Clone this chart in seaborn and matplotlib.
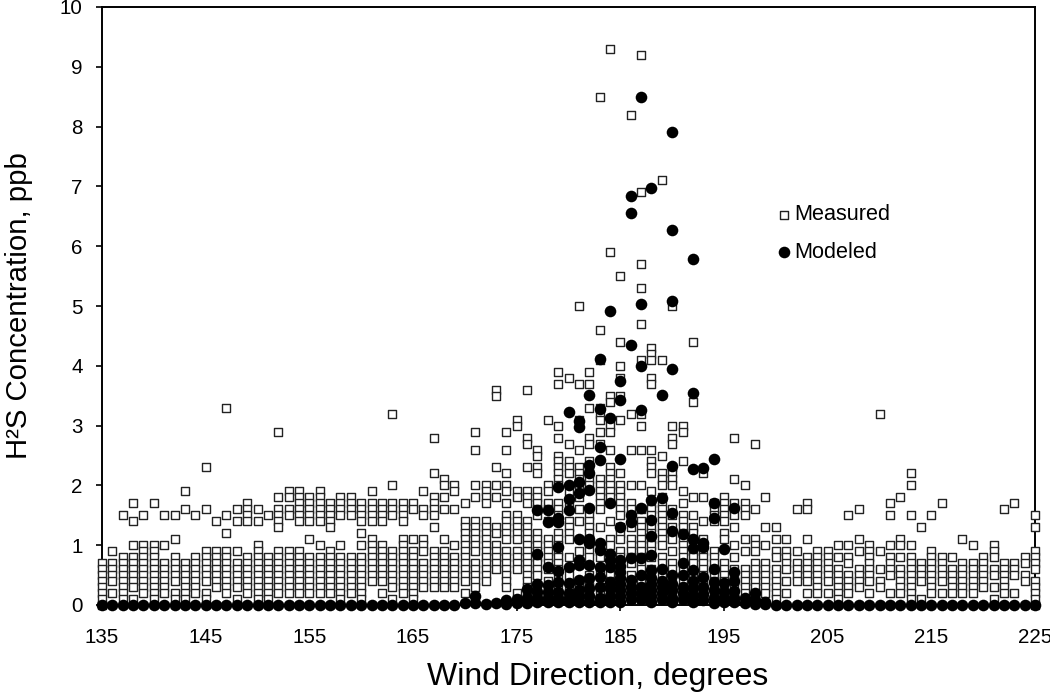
import pandas as pd
import numpy as np
import matplotlib
matplotlib.use('Agg')
import matplotlib.pyplot as plt
import seaborn as sns

# measured values per degree, in tenths of ppb (grid of the logger)
west_start = 135
measured_west = [
    [7,6,5,4,3,2,1,0],
    [9,7,6,5,4,2],
    [15,8,7,6,5,4,3,2,1],
    [17,14,10,8,7,6,5,4,3,1],
    [15,10,9,8,7,6,5,4,3,2],
    [17,10,9,8,7,6,5,4,3,2,1],
    [15,10,7,6,5,4,3,2],
    [15,11,8,7,6,5,4,2,1],
    [19,16,7,6,5,4,3,2,1],
    [15,8,7,6,5,4,3,2],
    [23,16,9,8,7,6,5,4,2,1],
    [14,9,8,7,6,5,4,3],
    [33,15,12,9,8,7,6,5,4,3,2],
    [16,14,9,7,6,5,4,3,1],
    [17,16,15,14,8,7,6,5,4,3,2],
    [16,14,10,9,8,7,6,5,4,3,2,1],
    [15,8,7,6,5,4,3,2,1],
    [29,18,16,15,14,13,9,8,7,6,5,4,3,2],
    [19,18,16,15,9,8,7,6,5,4,3,2],
    [19,18,17,16,15,14,9,8,7,6,5,4,3,2],
    [18,17,16,15,14,11,8,7,6,5,4,3,2],
    [19,18,17,16,15,14,10,8,7,6,5,4,3,2],
    [17,16,15,14,13,9,8,7,6,5,4,3,2],
    [18,17,16,15,10,8,7,6,5,4,3,2,1],
    [18,17,16,15,8,7,6,5,4,3,2],
    [17,16,15,14,12,10,8,7,6,5,4,3,2,1],
    [19,17,16,15,14,11,10,9,8,7,6,5,4],
    [17,16,15,14,10,9,8,7,6,5,4,2],
    [32,20,17,16,15,9,8,7,6,5,4,3,1],
    [17,16,15,14,11,10,9,8,7,6,5,4,3,2],
]

core_start = 165
measured_core = [
    [17,16,11,9,8,7,6,5,4,3,2,1],
    [19,16,15,11,10,9,7,6,5,4,3],
    [28,22,18,17,16,15,13,9,8,7,6,5,4,3],
    [21,20,18,16,11,9,8,7,6,5,4,3],
    [20,19,16,10,8,7,6,5,4,3],
    [17,14,13,12,11,10,9,8,7,6,5,4,2],
    [29,26,20,18,14,13,12,11,10,9,7,6,5,4,3],
    [20,19,18,17,14,13,12,11,10,9,8,7,6,5,4],
    [36,35,23,20,18,13,12,10,9,8,7,6],
    [29,26,22,20,19,17,15,14,13,12,11,9,8,7,6,5,4,3],
    [31,30,19,18,15,14,13,12,11,9,8,7,6,2,1],
    [36,28,27,23,19,18,17,14,13,12,11,10,9,8,7,6,5,4,3,2],
    [26,25,23,22,19,18,17,16,15,12,11,10,9,8,7,6,5,3,2,1],
    [31,20,19,17,16,14,11,10,9,8,7,6,4,3,2,1],
    [39,37,30,28,25,24,23,22,21,20,17,16,15,14,12,11,10,9,8,7,6,5,3,2,1],
    [38,27,24,23,22,19,17,14,13,12,11,8,5,3,2,1],
    [50,37,31,26,23,22,21,20,18,16,14,9,7,4,3,2,1],
    [39,37,33,28,27,24,23,22,21,20,16,15,14,13,12,11,10,9,8,5,4,3,2,1],
    [85,46,41,33,32,31,29,27,21,20,19,18,17,16,13,9,8,6,3,2,1],
    [93,59,35,34,30,29,26,23,22,21,20,19,18,14,11,10,7,5,4,3,2,1],
    [55,44,40,38,35,31,22,20,19,18,17,16,15,13,12,11,9,8,6,5,3,2,1],
    [82,32,26,20,17,16,15,14,13,11,10,9,8,7,5,3,2,1],
    [92,69,57,53,47,41,32,30,26,20,16,14,13,12,11,10,9,8,7,6,4,3,2,1],
    [43,42,41,38,37,26,24,23,22,19,17,16,15,13,12,11,10,9,8,6,5,3,2,1],
    [71,41,25,22,21,20,18,17,16,15,14,13,12,11,10,8,7,5,4,3,2,1],
    [50,30,28,27,23,22,21,20,16,15,13,12,11,9,7,6,4,3,2,1],
    [30,29,24,19,17,15,14,13,12,11,10,9,8,7,6,4,3,2,1],
    [44,34,18,15,13,12,11,9,8,7,5,4,3,2,1],
    [22,18,14,11,10,9,8,7,6,5,4,3,2,1],
    [17,16,15,14,9,8,7,6,5,4,3,2,1],
    [18,17,16,15,14,12,11,7,6,5,4,3,2,1],
]

east_start = 196
measured_east = [
    [28,21,17,15,13,10,8,6,5,4,3,2,1],
    [20,17,16,15,11,9,6,5,4,3,2],
    [27,16,11,10,9,7,6,5,4,3,2],
    [18,13,10,7,6,5,4,3,2],
    [13,11,9,8,6,5,4,3,2,1],
    [11,9,8,7,6,4,2],
    [16,9,7,6,5,4],
    [17,16,11,8,7,6,5,4,2],
    [9,8,7,6,5,4,3,2],
    [9,8,7,6,5,4,2],
    [10,8,6,5,4,3,2,1],
    [15,10,8,7,5,4,3,2],
    [16,11,9,6,5,4,3],
    [10,9,8,7,6,5,4,2],
    [32,9,6,4,3],
    [17,15,10,8,7,6,5,2],
    [18,11,10,8,6,5,4,3,2],
    [22,20,15,10,8,7,6,5,4,3,2,1],
    [13,7,6,5,4,1],
    [15,9,8,7,6,5,4,3,2],
    [17,8,7,6,5,4,2],
    [8,6,5,4,3,2],
    [11,7,6,5,4,3,2],
    [10,7,6,5,4,3,2],
    [8,7,6,5,4,3],
    [10,9,8,6,5,3,1],
    [16,7,6,5,4,3,2],
    [17,7,6,5,2],
    [8,7,5,4],
    [15,13,9,8,7,6,4,3,2,1,0],
]

# modeled, ppb, per degree. outside these degrees the model sits at zero
modeled_start = 170
modeled_core = [
    [0.04],
    [0.15,0.03],
    [0.02],
    [0.03],
    [0.08,0.02],
    [0.1,0.03],
    [0.26,0.12,0.04],
    [1.59,0.86,0.35,0.22,0.12,0.05],
    [1.59,1.38,0.63,0.33,0.22,0.12,0.05],
    [1.98,1.45,1.39,0.97,0.57,0.38,0.22,0.12,0.05],
    [3.23,2.0,1.77,1.59,0.63,0.36,0.2,0.12,0.05],
    [3.07,2.97,2.06,1.88,1.1,0.75,0.67,0.42,0.25,0.15,0.05],
    [3.51,2.34,2.2,1.92,1.62,1.11,1.03,0.67,0.45,0.28,0.15,0.05],
    [4.11,3.28,2.65,2.42,1.03,0.92,0.64,0.47,0.3,0.12,0.05],
    [4.92,3.12,1.7,0.86,0.75,0.64,0.39,0.28,0.15,0.05],
    [3.75,3.43,2.44,1.31,0.75,0.65,0.55,0.45,0.35,0.25,0.15,0.05],
    [6.84,6.56,4.35,1.5,1.39,0.78,0.42,0.3,0.2,0.1],
    [8.49,5.03,4.0,3.26,1.62,0.78,0.5,0.3,0.2,0.1],
    [6.97,1.76,1.42,1.15,0.84,0.59,0.45,0.35,0.25,0.15,0.05],
    [3.51,1.79,0.6,0.4,0.3,0.2,0.1],
    [7.91,6.27,5.08,3.95,2.33,1.54,1.23,0.5,0.35,0.25,0.12,0.05],
    [1.18,0.7,0.5,0.3,0.2,0.1],
    [5.79,3.54,2.27,1.11,0.95,0.59,0.4,0.28,0.15,0.05],
    [2.29,1.03,0.97,0.47,0.3,0.18,0.08],
    [2.44,1.71,1.45,0.61,0.38,0.25,0.12,0.04],
    [0.93,0.36,0.22,0.12,0.05],
    [1.62,0.56,0.4,0.24,0.12,0.05],
    [0.11,0.04],
    [0.2,0.08,0.02],
    [0.05,0.01],
]
modeled_flat_deg = list(range(135, 170)) + list(range(200, 226))

xticks_deg = [135, 145, 155, 165, 175, 185, 195, 205, 215, 225]
yticks_ppb = [0, 1, 2, 3, 4, 5, 6, 7, 8, 9, 10]


def long_form(groups, start, scale):
    rows = []
    for i, vals in enumerate(groups):
        for v in vals:
            rows.append((start + i, v * scale))
    return rows


measured = pd.DataFrame(
    long_form(measured_west, west_start, 0.1)
    + long_form(measured_core, core_start, 0.1)
    + long_form(measured_east, east_start, 0.1),
    columns=['deg', 'ppb'])
modeled = pd.DataFrame(
    long_form(modeled_core, modeled_start, 1.0) + [(d, 0.0) for d in modeled_flat_deg],
    columns=['deg', 'ppb'])

sns.set_theme(style='white')
plt.rcParams['font.family'] = ['Liberation Sans', 'DejaVu Sans']

fig = plt.figure(figsize=(10.5, 6.93), dpi=100)
ax = fig.add_axes([102 / 1050, 1 - 605 / 693, 933 / 1050, 598 / 693])

sns.scatterplot(data=measured, x='deg', y='ppb', marker='s', s=30, color='white',
                edgecolor='#222222', linewidth=1.0, clip_on=False, zorder=3,
                label='Measured', legend=False, ax=ax)
sns.scatterplot(data=modeled, x='deg', y='ppb', marker='o', s=70, color='black',
                edgecolor='black', linewidth=0, clip_on=False, zorder=4,
                label='Modeled', legend=False, ax=ax)

ax.set_xlim(135, 225)
ax.set_ylim(0, 10)
ax.set_xticks(xticks_deg)
ax.set_yticks(yticks_ppb)
ax.tick_params(axis='both', which='major', bottom=True, left=True, length=4.5, width=1.2,
               color='black', labelsize=14.8, labelcolor='black')
ax.tick_params(axis='x', pad=12)
ax.tick_params(axis='y', pad=9.5)
for s in ax.spines.values():
    s.set_visible(True)
    s.set_color('black')
    s.set_linewidth(1.4)

ax.set_xlabel('Wind Direction, degrees', fontsize=23, color='black', labelpad=10.5, x=0.5316)
ax.set_ylabel('H\u00b2S Concentration, ppb', fontsize=21.2, color='black', labelpad=19)

ax.legend(loc='upper left', bbox_to_anchor=(0.7076, 0.670), frameon=False, fontsize=15.6,
          handletextpad=-0.5, labelspacing=0.75, borderpad=0, borderaxespad=0,
          labelcolor='black')

plt.savefig('out.png', dpi=100)
